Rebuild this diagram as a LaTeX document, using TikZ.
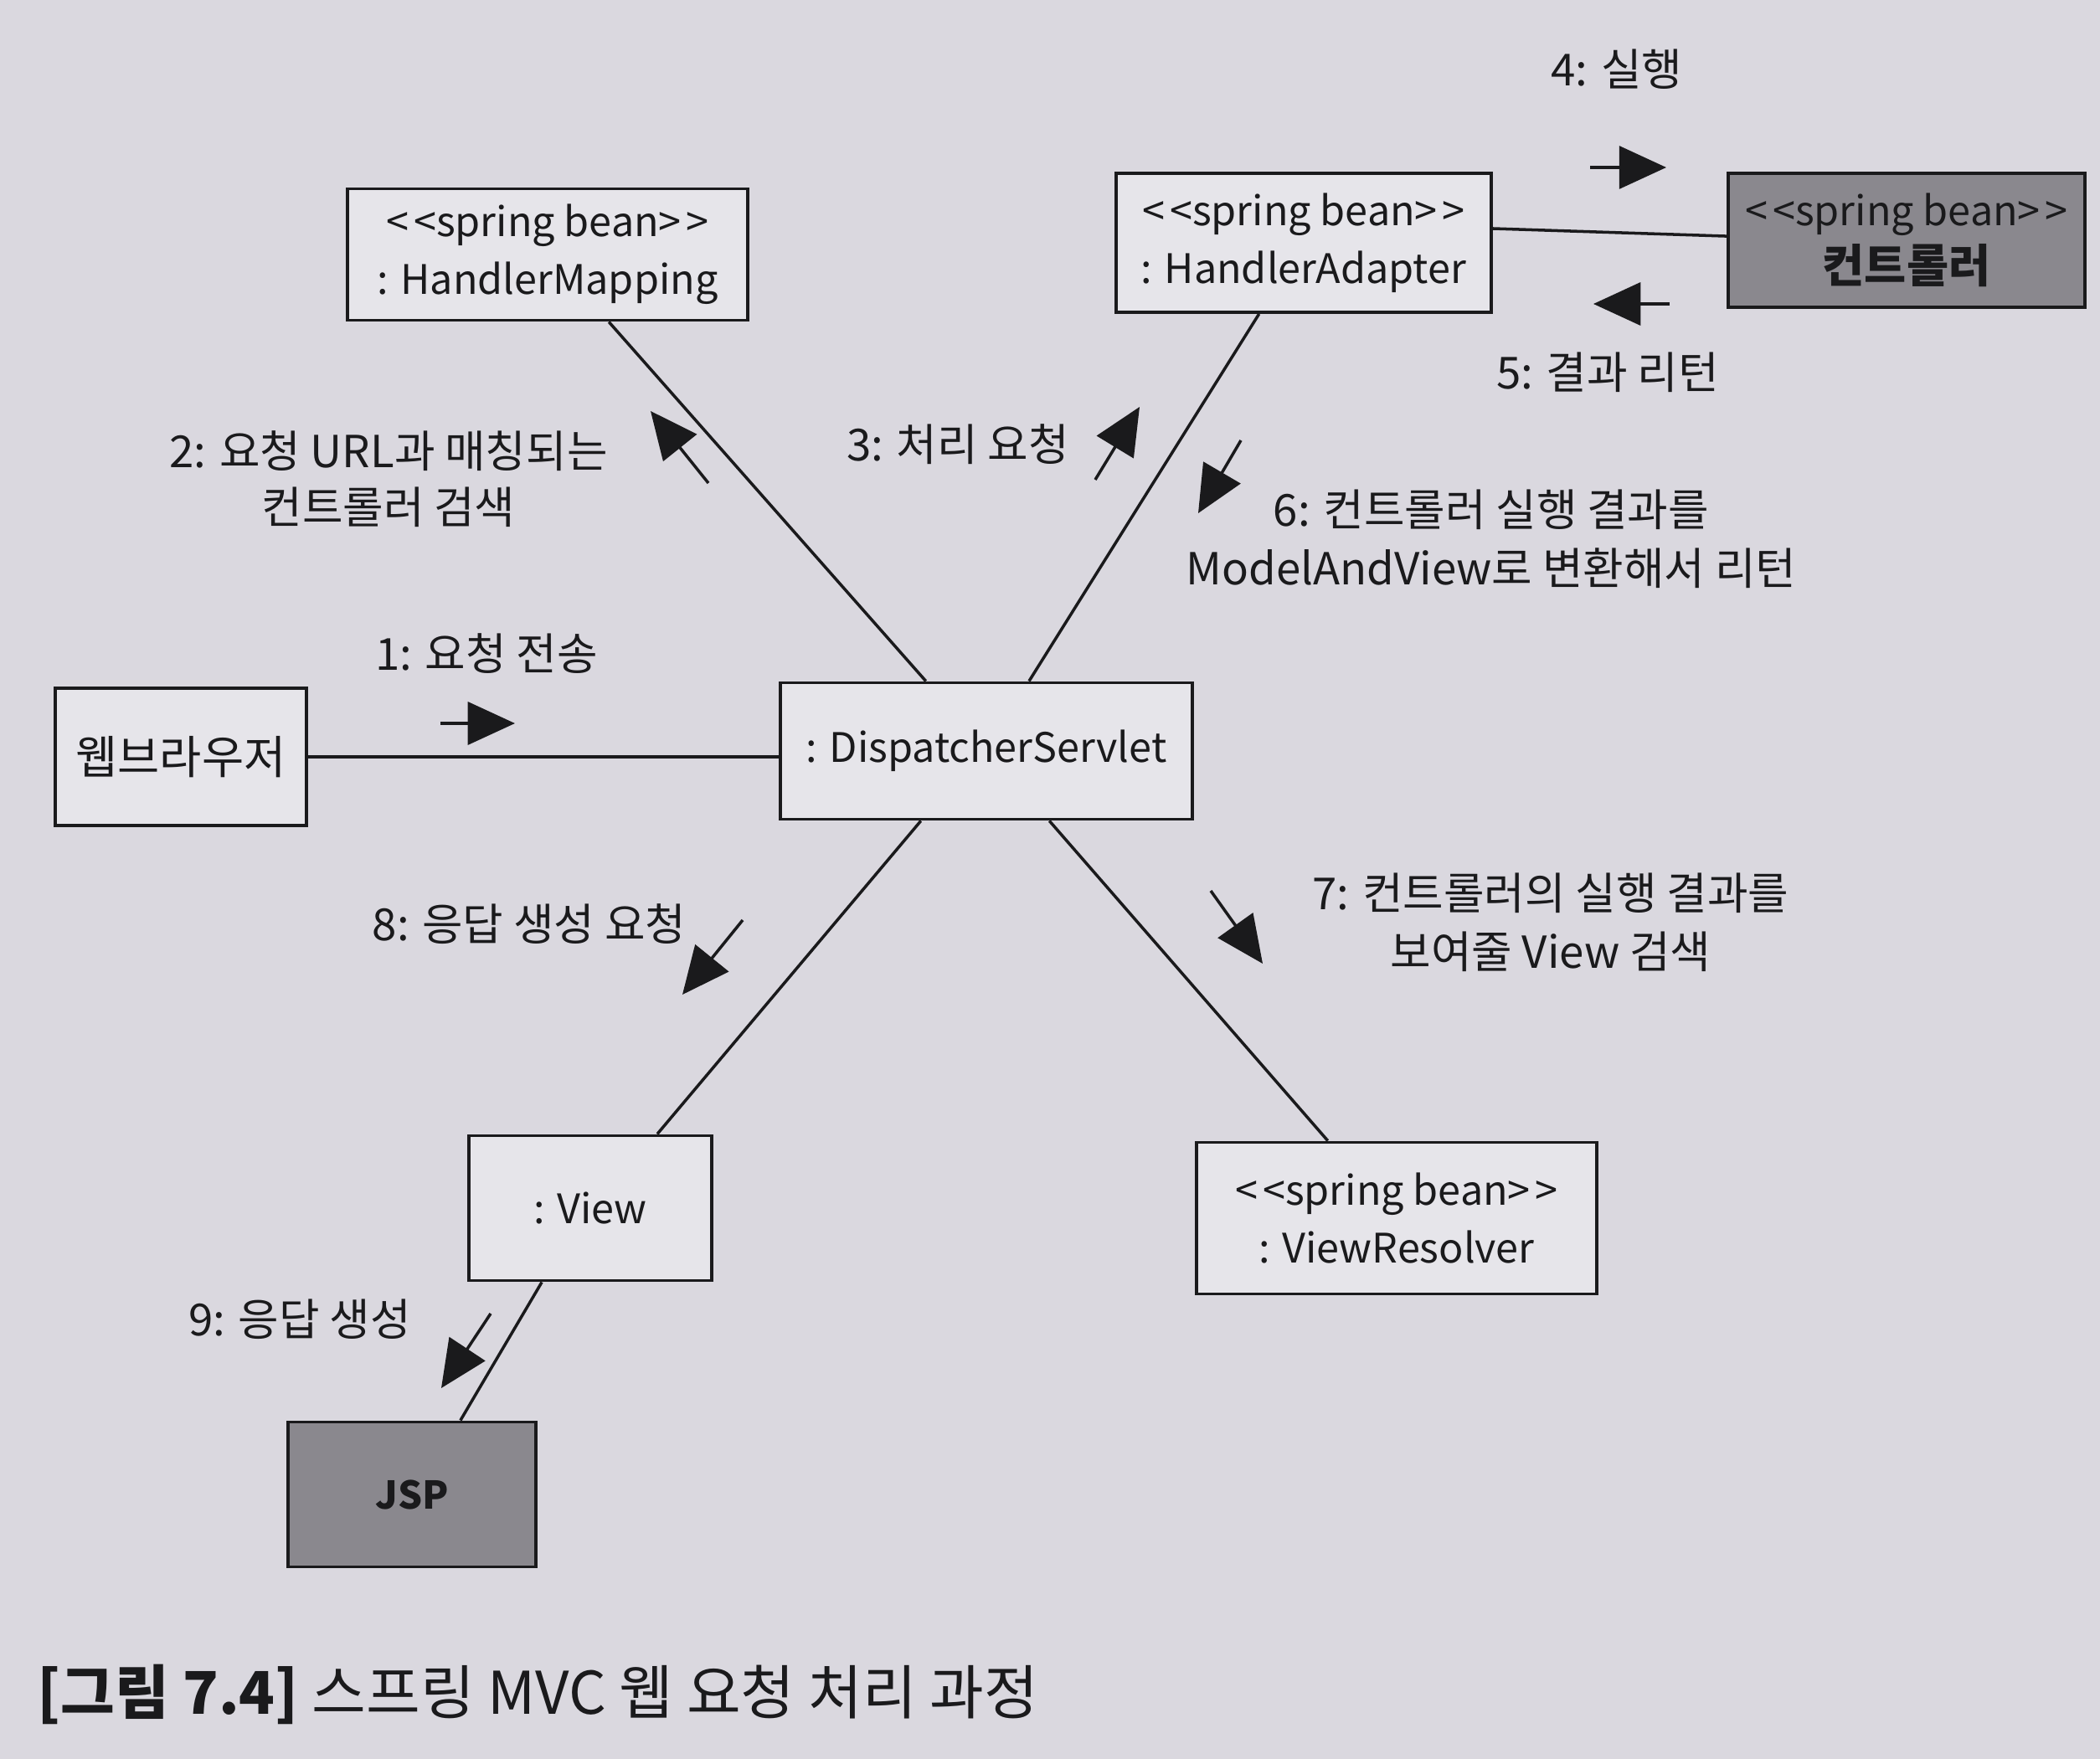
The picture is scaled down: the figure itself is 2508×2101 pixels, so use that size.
\documentclass[tikz,border=0pt]{standalone}
\usepackage{fontspec}
\setmainfont{Noto Sans CJK KR}
\usetikzlibrary{arrows.meta,calc}
\definecolor{paper}{HTML}{DAD8DF}
\definecolor{boxfill}{HTML}{E6E5EA}
\definecolor{darkfill}{HTML}{8A888E}
\definecolor{ink}{HTML}{1A1A1C}
% stereotype marker, kept as two separate angle brackets
\newcommand{\stereo}[1]{<\kern1.5pt<#1>\kern1.5pt>}
\begin{document}
\begin{tikzpicture}[x=0.01cm,y=-0.01cm,
  obj/.style={draw=ink,line width=1.1pt,fill=boxfill,rectangle,inner sep=0pt,
    align=center,text=ink,font=\fontsize{13.8}{19.5}\selectfont},
  dark/.style={obj,fill=darkfill},
  kor/.style={font=\fontsize{15.5}{19.5}\selectfont},
  link/.style={draw=ink,line width=1pt},
  msg/.style={draw=ink,line width=1pt,-{Triangle[length=16pt,width=14.5pt]}},
  lbl/.style={align=center,text=ink,inner sep=0pt,font=\fontsize{15}{20}\selectfont}
]
% page
\fill[paper] (0,0) rectangle (2508,2101);
\useasboundingbox (0,0) rectangle (2508,2101);

% objects
\node[obj,minimum width=4.77cm,minimum height=1.57cm] (hm) at (654,304)
  {\stereo{spring bean}\\: HandlerMapping};
\node[obj,minimum width=4.48cm,minimum height=1.66cm] (ha) at (1557,290)
  {\stereo{spring bean}\\: HandlerAdapter};
\node[dark,minimum width=4.26cm,minimum height=1.60cm] (ct) at (2277,287)
  {\stereo{spring bean}\\{\fontsize{15.5}{19.5}\selectfont\textbf{컨트롤러}}};
\node[obj,kor,minimum width=2.99cm,minimum height=1.64cm] (wb) at (216,904)
  {웹브라우저};
\node[obj,minimum width=4.91cm,minimum height=1.63cm] (ds) at (1178,897)
  {: DispatcherServlet};
\node[obj,minimum width=2.90cm,minimum height=1.73cm] (vw) at (705,1443)
  {: View};
\node[obj,minimum width=4.77cm,minimum height=1.81cm] (vr) at (1668,1455)
  {\stereo{spring bean}\\: ViewResolver};
\node[dark,minimum width=2.96cm,minimum height=1.73cm,font=\fontsize{13}{16}\selectfont] (jsp) at (492,1785)
  {\textbf{JSP}};

% links
\draw[link] (wb.east) -- (wb.east -| ds.west);
\draw[link] ($(hm.south west)!0.652!(hm.south east)$) -- ($(ds.north west)!0.354!(ds.north east)$);
\draw[link] ($(ha.south west)!0.382!(ha.south east)$) -- ($(ds.north west)!0.603!(ds.north east)$);
\draw[link] ($(ha.north east)!0.40!(ha.south east)$) -- ($(ct.north west)!0.47!(ct.south west)$);
\draw[link] ($(ds.south west)!0.342!(ds.south east)$) -- ($(vw.north west)!0.772!(vw.north east)$);
\draw[link] ($(ds.south west)!0.652!(ds.south east)$) -- ($(vr.north west)!0.329!(vr.north east)$);
\draw[link] ($(vw.south west)!0.303!(vw.south east)$) -- ($(jsp.north west)!0.693!(jsp.north east)$);

% message arrows
\coordinate (m1a) at (526,864);  \coordinate (m1b) at (615,864);
\coordinate (m2a) at (846,577);  \coordinate (m2b) at (777,491);
\coordinate (m3a) at (1308,573); \coordinate (m3b) at (1361,486);
\coordinate (m4a) at (1899,200); \coordinate (m4b) at (1990,200);
\coordinate (m5a) at (1994,363); \coordinate (m5b) at (1903,363);
\coordinate (m6a) at (1482,526); \coordinate (m6b) at (1431,613);
\coordinate (m7a) at (1446,1064); \coordinate (m7b) at (1508,1151);
\coordinate (m8a) at (887,1099); \coordinate (m8b) at (815,1188);
\coordinate (m9a) at (586,1569); \coordinate (m9b) at (527,1658);
\foreach \i in {1,...,9} \draw[msg] (m\i a) -- (m\i b);

% message labels
\node[lbl] (l1) at (581,781) {1: 요청 전송};
\node[lbl,font=\fontsize{15}{19}\selectfont] (l2) at (464,572) {2: 요청 URL과 매칭되는\\컨트롤러 검색};
\node[lbl] (l3) at (1144,531) {3: 처리 요청};
\node[lbl] (l4) at (1931,83) {4: 실행};
\node[lbl] (l5) at (1920,445) {5: 결과 리턴};
\node[lbl] (l6) at (1781,644) {6: 컨트롤러 실행 결과를\\ModelAndView로 변환해서 리턴};
\node[lbl] (l7) at (1852,1102) {7: 컨트롤러의 실행 결과를\\보여줄 View 검색};
\node[lbl] (l8) at (632,1104) {8: 응답 생성 요청};
\node[lbl] (l9) at (358,1576) {9: 응답 생성};

% caption
\node[anchor=west,text=ink,inner sep=0pt,font=\fontsize{20}{24}\selectfont] (cap) at (44,2024)
  {\textbf{[그림 7.4]} 스프링 MVC 웹 요청 처리 과정};
\end{tikzpicture}
\end{document}
